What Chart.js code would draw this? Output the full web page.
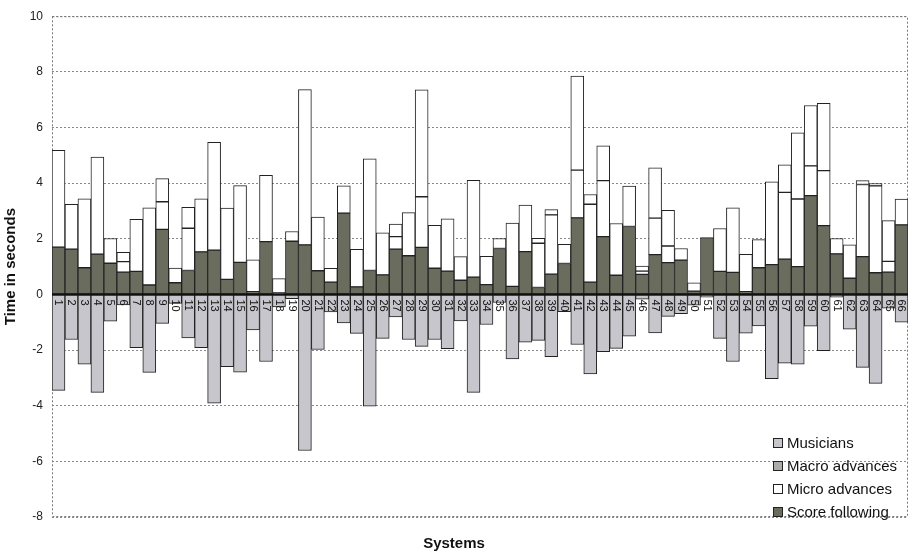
<!DOCTYPE html>
<html>
<head>
<meta charset="utf-8">
<script src="https://cdn.jsdelivr.net/npm/chart.js@4.4.0/dist/chart.umd.min.js"></script>
<style>
  body { margin: 0; background: #fff; }
  #wrap { width: 911px; height: 556px; position: relative; }
</style>
</head>
<body>
<div id="wrap"><canvas id="grafico"></canvas></div>
<script>
// ========== DADOS ==========
const systems = ['1','2','3','4','5','6','7','8','9','10','11','12','13','14','15','16','17','18','19','20',
  '21','22','23','24','25','26','27','28','29','30','31','32','33','34','35','36','37','38','39','40',
  '41','42','43','44','45','46','47','48','49','50','51','52','53','54','55','56','57','58','59','60',
  '61','62','63','64','65','66'];

const scoreFollowing = [1.70,1.63,0.96,1.45,1.12,0.80,0.83,0.34,2.34,0.42, 0.86,1.53,1.59,0.54,1.15,0.10,1.90,0.05,1.91,1.78,
  0.85,0.44,2.92,0.27,0.86,0.70,1.63,1.39,1.69,0.94, 0.84,0.51,0.62,0.35,1.65,0.29,1.54,0.25,0.73,1.11,
  2.75,0.44,2.08,0.69,2.44,0.72,1.43,1.14,1.23,0.12, 2.04,0.83,0.79,0.10,0.96,1.07,1.27,1.00,3.55,2.47,
  1.46,0.58,1.36,0.78,0.80,2.50];

const macroAdvances = [0,0,0,0,0,0.38,0,0,0.99,0, 1.52,0,0,0,0,0,0,0,0,0,
  0,0,0,0,0,0,0.45,0,1.82,0, 0,0,0,0,0,0,0,1.59,2.13,0,
  1.72,2.80,2.01,0,0,0.12,1.31,0.60,0,0, 0,0,0,0,0,0,2.40,2.43,1.07,1.98,
  0,0,2.59,3.12,0.39,0];

const microAdvances = [3.48,1.61,2.48,3.49,0.89,0.33,1.87,2.77,0.83,0.53, 0.75,1.91,3.88,2.56,2.76,1.14,2.38,0.52,0.35,5.58,
  1.93,0.50,0.98,1.35,4.01,1.51,0.45,1.55,3.84,1.54, 1.88,0.85,3.48,1.02,0.36,2.27,1.67,0.18,0.19,0.69,
  3.38,0.35,1.25,1.86,1.45,0.18,1.81,1.28,0.42,0.30, 0,1.54,2.32,1.34,1.01,2.98,0.99,2.38,2.17,2.42,
  0.55,1.20,0.14,0.08,1.46,0.93];

const musicians = [-3.45,-1.62,-2.51,-3.52,-0.96,-0.38,-1.91,-2.80,-1.04,-0.32, -1.56,-1.91,-3.91,-2.60,-2.79,-1.28,-2.41,-0.45,-0.15,-5.61,
  -1.98,-0.63,-1.02,-1.40,-4.02,-1.58,-0.81,-1.62,-1.87,-1.62, -1.95,-0.95,-3.52,-1.08,-0.29,-2.32,-1.72,-1.65,-2.24,-0.62,
  -1.80,-2.86,-2.06,-1.94,-1.50,-0.17,-1.38,-0.79,-0.69,-0.39, -0.10,-1.58,-2.41,-1.39,-1.13,-3.03,-2.47,-2.51,-1.14,-2.02,
  -0.10,-1.25,-2.62,-3.20,-0.49,-1.00];

const legendItems = ['Musicians', 'Macro advances', 'Micro advances', 'Score following'];
const legendColors = ['#c6c6cc', '#adada8', '#ffffff', '#6a6c5e'];

// ========== DESENHO EXTRA (moldura, linha zero, rótulos, legenda) ==========
const extras = {
  id: 'extras',
  beforeDatasetsDraw(chart) {
    const { ctx, chartArea: a } = chart;
    ctx.save();
    ctx.strokeStyle = '#777';
    ctx.lineWidth = 1;
    ctx.setLineDash([2, 2]);
    ctx.strokeRect(a.left + 0.5, a.top + 0.5, a.right - a.left - 1, a.bottom - a.top - 1);
    ctx.restore();
  },
  afterDatasetsDraw(chart) {
    const { ctx, chartArea: a, scales: { x, y } } = chart;
    const y0 = y.getPixelForValue(0);
    ctx.save();
    ctx.strokeStyle = '#111';
    ctx.lineWidth = 2;
    ctx.beginPath();
    ctx.moveTo(a.left, y0);
    ctx.lineTo(a.right, y0);
    ctx.stroke();

    // rótulos das categorias junto ao zero
    ctx.fillStyle = '#111';
    ctx.font = '11px "Liberation Sans", Arial, sans-serif';
    ctx.textAlign = 'left';
    ctx.textBaseline = 'middle';
    systems.forEach((s, i) => {
      ctx.save();
      ctx.translate(x.getPixelForValue(i), y0 + 5);
      ctx.rotate(Math.PI / 2);
      ctx.fillText(s, 0, 0);
      ctx.restore();
    });

    // legenda
    ctx.font = '15px "Liberation Sans", Arial, sans-serif';
    legendItems.forEach((t, i) => {
      const ly = 443 + i * 23;
      ctx.fillStyle = legendColors[i];
      ctx.fillRect(773, ly - 5, 10, 10);
      ctx.strokeStyle = '#222';
      ctx.lineWidth = 1;
      ctx.strokeRect(773.5, ly - 4.5, 9, 9);
      ctx.fillStyle = '#111';
      ctx.fillText(t, 787, ly + 1);
    });
    ctx.restore();
  }
};

// ========== GRÁFICO ==========
const ctx = document.getElementById('grafico').getContext('2d');
new Chart(ctx, {
  type: 'bar',
  data: {
    labels: systems,
    datasets: [
      { label: 'Score following', data: scoreFollowing, backgroundColor: '#6a6c5e' },
      { label: 'Macro advances', data: macroAdvances, backgroundColor: '#ffffff' },
      { label: 'Micro advances', data: microAdvances, backgroundColor: '#ffffff' },
      { label: 'Musicians', data: musicians, backgroundColor: '#c6c6cc' }
    ]
  },
  options: {
    responsive: true,
    maintainAspectRatio: false,
    animation: false,
    layout: { padding: { top: 12, right: 3, left: 0, bottom: 0 } },
    datasets: {
      bar: {
        barPercentage: 1,
        categoryPercentage: 1,
        borderWidth: 1,
        borderColor: '#222',
        borderSkipped: false
      }
    },
    plugins: {
      legend: { display: false },
      tooltip: { enabled: false },
      title: {
        display: true,
        position: 'bottom',
        text: 'Systems',
        color: '#111',
        font: { family: '"Liberation Sans", Arial, sans-serif', size: 15, weight: 'bold' },
        padding: { top: 18, bottom: 3 }
      }
    },
    scales: {
      x: {
        display: false,
        stacked: true
      },
      y: {
        stacked: true,
        min: -8,
        max: 10,
        afterFit(scale) { scale.width = 52; },
        ticks: {
          stepSize: 2,
          padding: 9,
          color: '#222',
          font: { family: '"Liberation Sans", Arial, sans-serif', size: 12 }
        },
        grid: {
          drawTicks: false,
          color: '#888',
          lineWidth: 1
        },
        border: { display: false, dash: [2, 2] },
        title: {
          display: true,
          text: 'Time in seconds',
          color: '#111',
          font: { family: '"Liberation Sans", Arial, sans-serif', size: 15, weight: 'bold' },
          padding: { top: 2, bottom: 0 }
        }
      }
    }
  },
  plugins: [extras]
});
</script>
</body>
</html>
